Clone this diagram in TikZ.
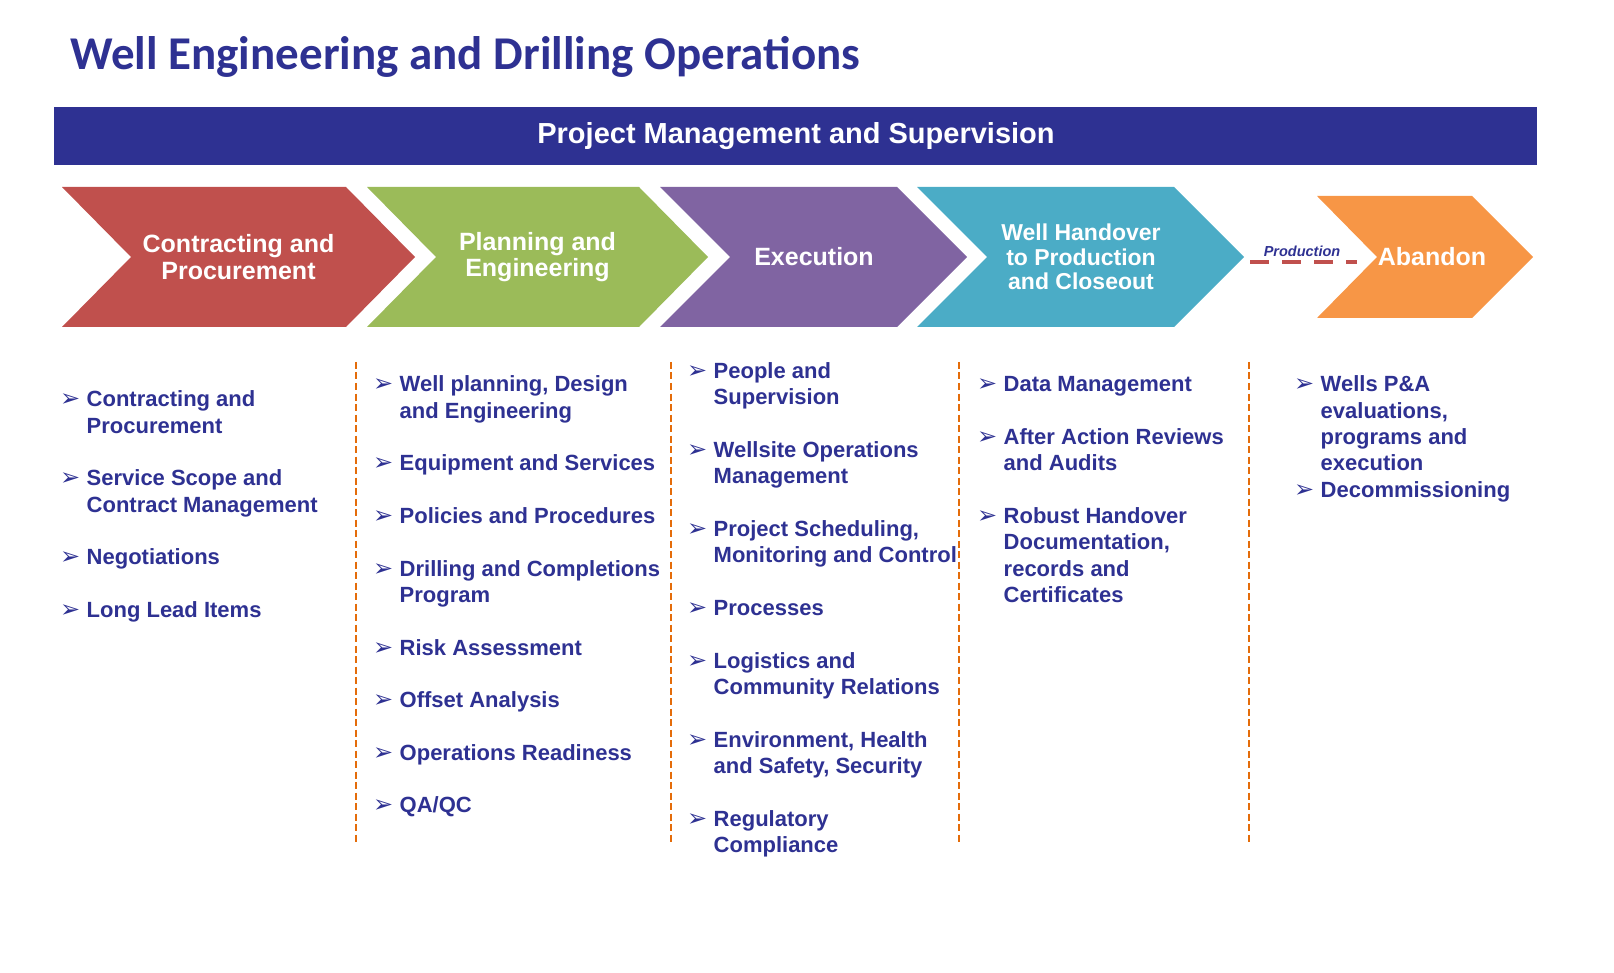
\documentclass[tikz,border=0pt]{standalone}
\usepackage{fontspec}
\usepackage{array}
\setmainfont{Liberation Sans}
\newfontfamily\titlefont{Carlito}
\newfontfamily\symfont{DejaVu Sans}
\definecolor{navy}{HTML}{2E3192}
\definecolor{chevred}{HTML}{C0504D}
\definecolor{chevgreen}{HTML}{9BBB59}
\definecolor{chevpurple}{HTML}{8064A2}
\definecolor{chevteal}{HTML}{4BACC6}
\definecolor{chevorange}{HTML}{F79646}
\definecolor{divorange}{HTML}{E46C0A}
\newcommand{\bul}{{\symfont\fontsize{24}{24}\selectfont ➢}}
\newcommand{\listgap}{26.33pt}
\tikzset{
  chevtext/.style={text=white,align=center,inner sep=0pt,font=\bfseries\fontsize{25}{26.7}\selectfont},
  listcol/.style={anchor=base west,inner sep=0pt,text=navy,font=\bfseries\fontsize{22}{26.33}\selectfont},
  divider/.style={divorange,line width=2.7pt,dash pattern=on 7pt off 3.5pt}
}
\begin{document}
\begin{tikzpicture}[x=1pt,y=-1pt]
\useasboundingbox (0,0) rectangle (1614,973);
% title and banner
\node[anchor=base west,inner sep=0pt,text=navy,font=\titlefont\bfseries\fontsize{47}{47}\selectfont] (title) at (70,70) {Well Engineering and Drilling Operations};
\fill[navy] (54,107) rectangle (1537,165);
\node[text=white,inner sep=0pt,font=\bfseries\fontsize{29}{29}\selectfont] (banner) at (796,136) {Project Management and Supervision};
% chevrons
\fill[chevred] (62,187) -- (346,187) -- (415,257) -- (346,327) -- (62,327) -- (131,257) -- cycle;
\fill[chevgreen] (367,187) -- (639,187) -- (708,257) -- (639,327) -- (367,327) -- (436,257) -- cycle;
\fill[chevpurple] (660,187) -- (897,187) -- (967,257) -- (897,327) -- (660,327) -- (730,257) -- cycle;
\fill[chevteal] (917,187) -- (1174,187) -- (1244,257) -- (1174,327) -- (917,327) -- (987,257) -- cycle;
\fill[chevorange] (1317,196) -- (1472,196) -- (1533,257) -- (1472,318) -- (1317,318) -- (1377,257) -- cycle;
\node[chevtext] (contract) at (238.5,257) {Contracting and\\Procurement};
\node[chevtext] (planning) at (537.5,257) {Planning and\\Engineering};
\node[chevtext] (execution) at (814,257) {Execution};
\node[chevtext,font=\bfseries\fontsize{23}{24.5}\selectfont] (handover) at (1081,257) {Well Handover\\to Production\\and Closeout};
\node[chevtext] (abandon) at (1432,257) {Abandon};
% production link
\coordinate (prodstart) at (1250,262);
\coordinate (prodend) at (1357,262);
\draw[chevred,line width=4pt,dash pattern=on 18.5pt off 13.5pt] (prodstart) -- (prodend);
\node[anchor=base,inner sep=0pt,text=navy,font=\bfseries\itshape\fontsize{14.5}{14.5}\selectfont] (prodlabel) at (1302,256.7) {Production};
% dividers
\foreach \dx in {356,671,959,1249}
  \draw[divider] (\dx,362) -- (\dx,843);
% lists
\node[listcol] (contractlist) at (60,406.7) {\begin{tabular}[t]{@{}p{26.5pt}@{}l@{}}
\bul & Contracting and\\
 & Procurement\\[\listgap]
\bul & Service Scope and\\
 & Contract Management\\[\listgap]
\bul & Negotiations\\[\listgap]
\bul & Long Lead Items
\end{tabular}};
\node[listcol] (planlist) at (373,391.7) {\begin{tabular}[t]{@{}p{26.5pt}@{}l@{}}
\bul & Well planning, Design\\
 & and Engineering\\[\listgap]
\bul & Equipment and Services\\[\listgap]
\bul & Policies and Procedures\\[\listgap]
\bul & Drilling and Completions\\
 & Program\\[\listgap]
\bul & Risk Assessment\\[\listgap]
\bul & Offset Analysis\\[\listgap]
\bul & Operations Readiness\\[\listgap]
\bul & QA/QC
\end{tabular}};
\node[listcol] (execlist) at (687,378.4) {\begin{tabular}[t]{@{}p{26.5pt}@{}l@{}}
\bul & People and\\
 & Supervision\\[\listgap]
\bul & Wellsite Operations\\
 & Management\\[\listgap]
\bul & Project Scheduling,\\
 & Monitoring and Control\\[\listgap]
\bul & Processes\\[\listgap]
\bul & Logistics and\\
 & Community Relations\\[\listgap]
\bul & Environment, Health\\
 & and Safety, Security\\[\listgap]
\bul & Regulatory\\
 & Compliance
\end{tabular}};
\node[listcol] (handlist) at (977,391.7) {\begin{tabular}[t]{@{}p{26.5pt}@{}l@{}}
\bul & Data Management\\[\listgap]
\bul & After Action Reviews\\
 & and Audits\\[\listgap]
\bul & Robust Handover\\
 & Documentation,\\
 & records and\\
 & Certificates
\end{tabular}};
\node[listcol] (abandonlist) at (1294,391.7) {\begin{tabular}[t]{@{}p{26.5pt}@{}l@{}}
\bul & Wells P\&A\\
 & evaluations,\\
 & programs and\\
 & execution\\
\bul & Decommissioning
\end{tabular}};
\end{tikzpicture}
\end{document}
